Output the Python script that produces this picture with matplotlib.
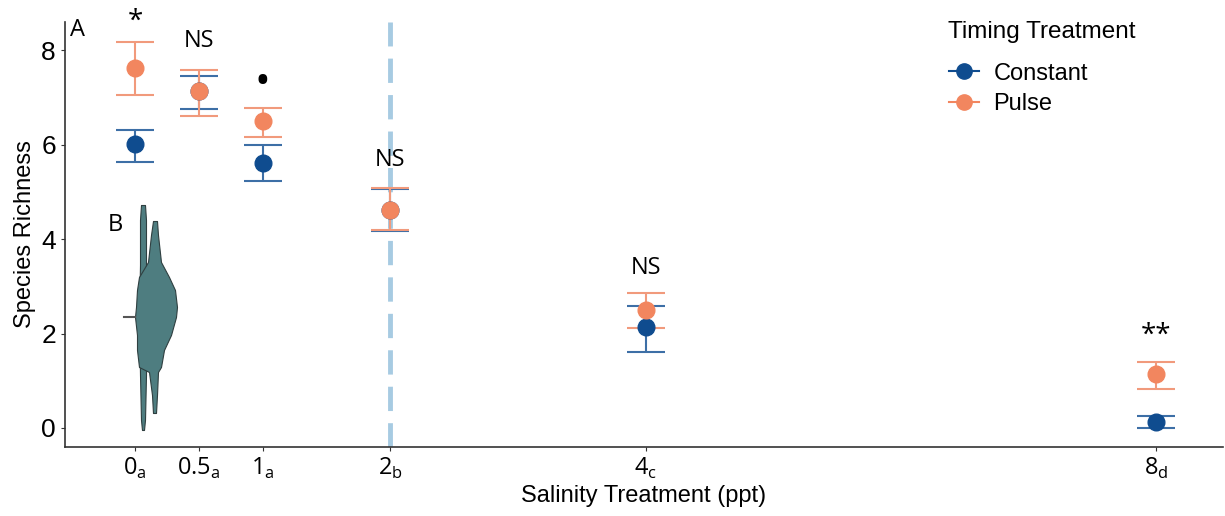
import matplotlib.pyplot as plt
from matplotlib.lines import Line2D

# salinity treatments (ppt)
salinity = [0, 0.5, 1, 2, 4, 8]
tick_labels = ["0$_\\mathregular{a}$", "0.5$_\\mathregular{a}$", "1$_\\mathregular{a}$",
               "2$_\\mathregular{b}$", "4$_\\mathregular{c}$", "8$_\\mathregular{d}$"]

# species richness, constant timing
const_mean = [6.02, 7.14, 5.62, 4.62, 2.13, 0.13]
const_low = [5.64, 6.76, 5.24, 4.17, 1.62, 0.00]
const_high = [6.31, 7.45, 6.00, 5.06, 2.58, 0.25]

# species richness, pulse timing
pulse_mean = [7.62, 7.14, 6.50, 4.63, 2.50, 1.14]
pulse_low = [7.05, 6.62, 6.16, 4.20, 2.12, 0.83]
pulse_high = [8.18, 7.58, 6.79, 5.08, 2.86, 1.40]

# significance labels
sig_text = ["*", "NS", "\u2022", "NS", "NS", "**"]
sig_y = [8.6, 8.2, 7.32, 5.67, 3.39, 1.95]

# inset B: distribution outline (value, left edge, right edge), relative units
spike_v = [5, 15, 60, 120, 170, 215, 230]
spike_l = [142, 141, 140, 139, 140, 140, 141]
spike_r = [144, 145, 146, 146, 146, 146, 145]
body_v = [22, 40, 63, 68, 85, 100, 118, 128, 145, 158, 173, 200, 214]
body_l = [153, 152, 149, 139, 137, 137, 135, 136, 137, 139, 148, 151, 153]
body_r = [156, 157, 158, 161, 164, 171, 176, 177, 175, 169, 161, 158, 157]

blue = "#0f4c8f"
orange = "#f2865f"
blue_bar = "#3d6fa6"
orange_bar = "#f19a7c"

fig = plt.figure(figsize=(12.25, 5.16), dpi=100)
ax = fig.add_axes([0.053, 0.134, 0.945, 0.823])

ax.axvline(2, color="#a7cbe2", lw=3.5, dashes=(5, 2.5), zorder=0)

for mean, low, high, c, ec in [(const_mean, const_low, const_high, blue, blue_bar),
                                (pulse_mean, pulse_low, pulse_high, orange, orange_bar)]:
    err = [[m - l for m, l in zip(mean, low)], [h - m for m, h in zip(mean, high)]]
    ax.errorbar(salinity, mean, yerr=err, fmt="o", color=c, ecolor=ec, elinewidth=1.5,
                capsize=14, capthick=1.5, markersize=12, zorder=3)

for x, t, y in zip(salinity, sig_text, sig_y):
    fs = 30 if t == "\u2022" else 17
    if t.startswith("*"):
        fs = 20
    ax.text(x, y, t, ha="center", va="center", fontsize=fs, family="Open Sans")

ax.set_xlim(-0.55, 8.52)
ax.set_ylim(-0.4, 8.6)
ax.set_xticks(salinity)
ax.set_xticklabels(tick_labels, family="Open Sans", fontsize=17)
ax.set_yticks([0, 2, 4, 6, 8])
ax.tick_params(axis="y", labelsize=19, length=3, color="#333333")
ax.tick_params(axis="x", length=3, color="#333333")
for lab in ax.get_yticklabels():
    lab.set_family("Liberation Sans")
for s in ["top", "right"]:
    ax.spines[s].set_visible(False)
for s in ["left", "bottom"]:
    ax.spines[s].set_color("#333333")
    ax.spines[s].set_linewidth(1.2)
ax.set_xlabel("Salinity Treatment (ppt)", family="Liberation Sans", fontsize=17, labelpad=3)
ax.set_ylabel("Species Richness", family="Liberation Sans", fontsize=17, labelpad=4)

handles = [Line2D([], [], color=blue, marker="o", markersize=11, lw=1.5),
           Line2D([], [], color=orange, marker="o", markersize=11, lw=1.5)]
leg = ax.legend(handles, ["Constant", "Pulse"], loc="upper left",
                bbox_to_anchor=(0.745, 0.955), frameon=False, handlelength=1.3,
                prop={"family": "Liberation Sans", "size": 17},
                labelspacing=0.35, handletextpad=0.6)
fig.text(948 / 1225, 1 - 32 / 516, "Timing Treatment", family="Liberation Sans",
         fontsize=17.5, va="center")

# inset B
ins = fig.add_axes([115 / 1225, 1 - 435 / 516, 70 / 1225, 235 / 516])
ins.fill_betweenx(spike_v, spike_l, spike_r, color="#4e7d80", lw=0.8, edgecolor="#2f3f40")
ins.fill_betweenx(body_v, body_l, body_r, color="#4e7d80", lw=0.8, edgecolor="#2f3f40")
ins.plot([124, 135], [118, 118], color="#555555", lw=1.5)
ins.set_xlim(115, 185)
ins.set_ylim(0, 235)
ins.axis("off")

fig.text(70 / 1225, 1 - 30 / 516, "A", fontsize=17, family="Open Sans", va="center")
fig.text(108 / 1225, 1 - 225 / 516, "B", fontsize=17, family="Open Sans", va="center")

fig.savefig("out.png", dpi=100)
